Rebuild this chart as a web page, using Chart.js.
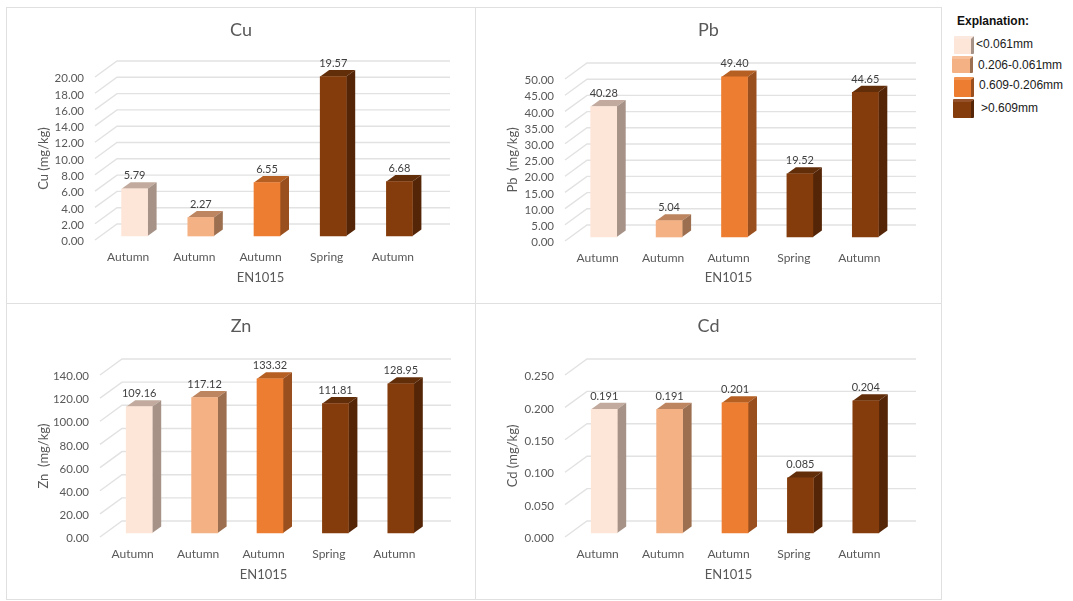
<!DOCTYPE html>
<html>
<head>
<meta charset="utf-8">
<title>EN1015</title>
<script src="https://cdn.jsdelivr.net/npm/chart.js@4"></script>
<style>
    body { margin: 0; background: #fff; width: 1073px; height: 601px; overflow: hidden; position: relative; }
    canvas { position: absolute; outline: 1px solid #e0e0e0; outline-offset: -1px; }
    .legend-title, .legend-label { position: absolute; font-family: "Liberation Sans", Arial, sans-serif; font-size: 12px; color: #1a1a1a; white-space: nowrap; line-height: 14px; }
    .legend-title { font-weight: bold; color: #111; }
    .cube { position: absolute; box-sizing: border-box; border-radius: 1px; }
</style>
</head>
<body>
<canvas id="cuChart" width="470" height="297" style="left:6px;top:7px"></canvas>
<canvas id="pbChart" width="467" height="297" style="left:475px;top:7px"></canvas>
<canvas id="znChart" width="470" height="297" style="left:6px;top:303px"></canvas>
<canvas id="cdChart" width="467" height="297" style="left:475px;top:303px"></canvas>
<div class="legend-title" style="left:957px;top:14px">Explanation:</div>
<script>
// Daten
const categories = ['Autumn', 'Autumn', 'Autumn', 'Spring', 'Autumn'];
const cuValues = [5.79, 2.27, 6.55, 19.57, 6.68];
const pbValues = [40.28, 5.04, 49.40, 19.52, 44.65];
const znValues = [109.16, 117.12, 133.32, 111.81, 128.95];
const cdValues = [0.191, 0.191, 0.201, 0.085, 0.204];
const valueLabelsCu = ['5.79', '2.27', '6.55', '19.57', '6.68'];
const valueLabelsPb = ['40.28', '5.04', '49.40', '19.52', '44.65'];
const valueLabelsZn = ['109.16', '117.12', '133.32', '111.81', '128.95'];
const valueLabelsCd = ['0.191', '0.191', '0.201', '0.085', '0.204'];
const cuTicks = ['0.00', '2.00', '4.00', '6.00', '8.00', '10.00', '12.00', '14.00', '16.00', '18.00', '20.00'];
const pbTicks = ['0.00', '5.00', '10.00', '15.00', '20.00', '25.00', '30.00', '35.00', '40.00', '45.00', '50.00'];
const znTicks = ['0.00', '20.00', '40.00', '60.00', '80.00', '100.00', '120.00', '140.00'];
const cdTicks = ['0.000', '0.050', '0.100', '0.150', '0.200', '0.250'];
const legendLabels = ['<0.061mm', '0.206-0.061mm', '0.609-0.206mm', '>0.609mm'];

// Farben: Vorderseite, Seite, Deckel
const frontColors = ['#FDE5D8', '#F4B183', '#ED7D31', '#843C0C'];
const sideColors = ['#A69287', '#9C6F50', '#9A4F1E', '#542507'];
const topColors = ['#C2AB9E', '#BD8560', '#B55F22', '#622E0A'];
const barColorIndex = [0, 1, 2, 3, 3];

const textColor = '#595959';
const gridColor = '#e2e2e2';

// 3D-Optik: Titel, Rueckwand, Seitenflaechen und Werte
const fake3d = {
    id: 'fake3d',
    beforeDatasetsDraw(chart, args, opts) {
        const ctx = chart.ctx;
        const area = chart.chartArea;
        const y = chart.scales.y;

        ctx.save();
        ctx.font = '18px Lato';
        ctx.fillStyle = textColor;
        ctx.textAlign = 'center';
        ctx.textBaseline = 'middle';
        ctx.fillText(opts.title, chart.width / 2, 23);

        ctx.strokeStyle = gridColor;
        ctx.lineWidth = 1.4;
        y.ticks.forEach(t => {
            const py = y.getPixelForValue(t.value);
            ctx.beginPath();
            ctx.moveTo(area.left, py);
            ctx.lineTo(area.left + opts.wallDx, py - opts.wallDy);
            ctx.lineTo(area.right + opts.wallDx + 2, py - opts.wallDy);
            ctx.stroke();
        });
        ctx.restore();

        ctx.save();
        ctx.translate(opts.barDx, opts.barDy);
        chart.getDatasetMeta(0).data.forEach((bar, i) => {
            const c = barColorIndex[i];
            const left = bar.x - bar.width / 2;
            const right = bar.x + bar.width / 2;
            ctx.fillStyle = topColors[c];
            ctx.beginPath();
            ctx.moveTo(left, bar.y);
            ctx.lineTo(right, bar.y);
            ctx.lineTo(right + opts.depthX, bar.y - opts.depthY);
            ctx.lineTo(left + opts.depthX, bar.y - opts.depthY);
            ctx.closePath();
            ctx.fill();
            ctx.fillStyle = sideColors[c];
            ctx.beginPath();
            ctx.moveTo(right, bar.y);
            ctx.lineTo(right + opts.depthX, bar.y - opts.depthY);
            ctx.lineTo(right + opts.depthX, bar.base - opts.depthY);
            ctx.lineTo(right, bar.base);
            ctx.closePath();
            ctx.fill();
        });
        // Balken selbst werden gleich von Chart.js im verschobenen Kontext gezeichnet
    },
    afterDatasetsDraw(chart, args, opts) {
        const ctx = chart.ctx;
        ctx.restore();

        ctx.save();
        ctx.font = '11px Lato';
        ctx.fillStyle = '#404040';
        ctx.textAlign = 'center';
        ctx.textBaseline = 'middle';
        chart.getDatasetMeta(0).data.forEach((bar, i) => {
            ctx.fillText(opts.labels[i], bar.x + opts.barDx, bar.y + opts.barDy - 13);
        });
        ctx.restore();
    }
};

function createMetalChart(canvasId, title, yTitle, values, valueLabels, tickLabels, box) {
    const ctx = document.getElementById(canvasId).getContext('2d');
    const canvasHeight = ctx.canvas.height;

    return new Chart(ctx, {
        type: 'bar',
        data: {
            labels: categories,
            datasets: [{
                data: values,
                backgroundColor: barColorIndex.map(c => frontColors[c]),
                barThickness: 26,
                clip: false
            }]
        },
        plugins: [fake3d],
        options: {
            responsive: false,
            animation: false,
            layout: {
                padding: { left: 30, right: box.right, top: box.top, bottom: canvasHeight - box.xBottom }
            },
            plugins: {
                legend: { display: false },
                tooltip: { enabled: false },
                title: { display: false },
                fake3d: {
                    title: title,
                    labels: valueLabels,
                    wallDx: 22,
                    wallDy: 16,
                    barDx: box.barDx,
                    barDy: -4,
                    depthX: 9,
                    depthY: 6.5
                }
            },
            scales: {
                x: {
                    grid: { display: false, drawTicks: false },
                    border: { display: false },
                    afterFit: s => { s.height = box.xBottom - box.bottom; },
                    ticks: {
                        color: textColor,
                        font: { family: 'Lato', size: 12 },
                        padding: 10,
                        maxRotation: 0
                    },
                    title: {
                        display: true,
                        text: 'EN1015',
                        color: textColor,
                        font: { family: 'Lato', size: 13 },
                        padding: 0
                    }
                },
                y: {
                    min: Number(tickLabels[0]),
                    max: Number(tickLabels[tickLabels.length - 1]),
                    grid: { display: false, drawTicks: false },
                    border: { display: false },
                    afterFit: s => { s.width = box.axisWidth; },
                    afterBuildTicks: s => {
                        s.ticks = tickLabels.map(t => ({ value: Number(t) }));
                    },
                    ticks: {
                        color: textColor,
                        font: { family: 'Lato', size: 11.5 },
                        padding: 11,
                        labelOffset: 1.5,
                        autoSkip: false,
                        callback: (value, index) => tickLabels[index]
                    },
                    title: {
                        display: true,
                        text: yTitle,
                        color: textColor,
                        font: { family: 'Lato', size: 13 },
                        padding: 0
                    }
                }
            }
        }
    });
}

createMetalChart('cuChart', 'Cu', 'Cu (mg/kg)', cuValues, valueLabelsCu, cuTicks,
    { axisWidth: 59, right: 50, top: 70, bottom: 233, xBottom: 279, barDx: 6.5 });
createMetalChart('pbChart', 'Pb', 'Pb  (mg/kg)', pbValues, valueLabelsPb, pbTicks,
    { axisWidth: 60, right: 50, top: 72, bottom: 234, xBottom: 279, barDx: 6 });
createMetalChart('znChart', 'Zn', 'Zn  (mg/kg)', znValues, valueLabelsZn, znTicks,
    { axisWidth: 64, right: 49, top: 72, bottom: 234, xBottom: 280, barDx: 6.5 });
createMetalChart('cdChart', 'Cd', 'Cd (mg/kg)', cdValues, valueLabelsCd, cdTicks,
    { axisWidth: 60, right: 50, top: 72, bottom: 234, xBottom: 280, barDx: 6.5 });

// Legende rechts oben
const legendCubes = [
    { x: 954, y: 36, w: 20, h: 18, tx: 976, ty: 37 },
    { x: 952, y: 56, w: 21, h: 17, tx: 978, ty: 58 },
    { x: 954, y: 77, w: 20, h: 20, tx: 979, ty: 78 },
    { x: 953, y: 99, w: 21, h: 19, tx: 981, ty: 101 }
];
const legendTops = ['#FBE9DF', '#F7C09A', '#F0914F', '#95522A'];

legendLabels.forEach((text, i) => {
    const pos = legendCubes[i];
    const cube = document.createElement('div');
    cube.className = 'cube';
    cube.style.cssText = `left:${pos.x}px;top:${pos.y}px;width:${pos.w}px;height:${pos.h}px;` +
        `background:${frontColors[i]};border-top:3px solid ${legendTops[i]};border-right:3px solid ${sideColors[i]}`;
    document.body.appendChild(cube);

    const label = document.createElement('div');
    label.className = 'legend-label';
    label.style.cssText = `left:${pos.tx}px;top:${pos.ty}px`;
    label.textContent = text;
    document.body.appendChild(label);
});
</script>
</body>
</html>
